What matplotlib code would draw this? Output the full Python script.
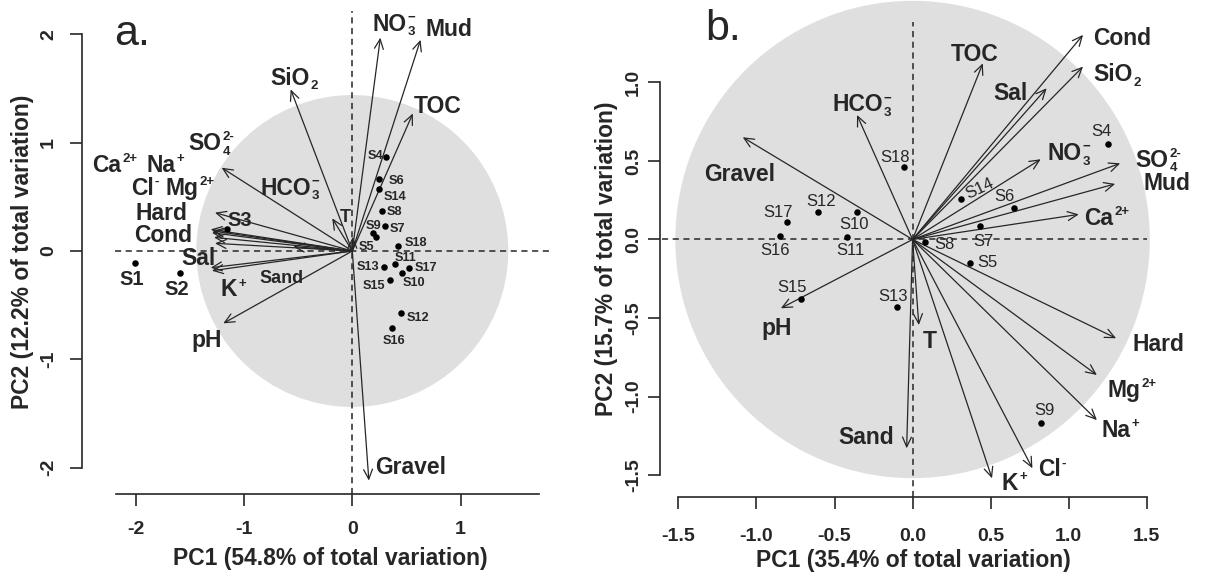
import matplotlib
matplotlib.use('Agg')
import matplotlib.pyplot as plt
from matplotlib.patches import Circle
from matplotlib.font_manager import FontProperties

plt.rcParams['font.family'] = ['Liberation Sans', 'DejaVu Sans']
plt.rcParams['axes.unicode_minus'] = False

ink = '#262626'
shade = '#dfdfdf'

# ---------------- panel a: loadings (arrow tips) ----------------
a_vars = ['NO3-', 'Mud', 'TOC', 'SiO2', 'SO42-', 'Hard', 'Ca2+', 'Na+', 'Mg2+',
          'Cond', 'Cl-', 'Sal', 'K+', 'Sand', 'HCO3-', 'T', 'pH', 'Gravel']
a_pc1 = [0.259, 0.63, 0.559, -0.569, -1.206, -1.268, -1.307, -1.296, -1.29,
         -1.277, -1.268, -1.307, -1.296, -0.545, 0.005, -0.185, -1.191, 0.153]
a_pc2 = [1.97, 1.95, 1.27, 1.493, 0.769, 0.354, 0.2, 0.169, 0.185,
         0.126, 0.071, -0.154, -0.182, 0.04, 0.13, 0.302, -0.668, -2.12]
# label anchors
a_lab_x = [0.382, 0.895, 0.789, -0.538, -1.298, -1.76, -2.19, -1.73, -1.499,
           -1.745, -1.914, -1.42, -1.099, -0.652, -0.575, -0.067, -1.344, 0.541]
a_lab_y = [2.11, 2.06, 1.35, 1.61, 1.009, 0.363, 0.81, 0.81, 0.594,
           0.163, 0.594, -0.053, -0.344, -0.237, 0.594, 0.332, -0.806, -1.98]

# panel a: site scores
a_sites = ['S1', 'S2', 'S3', 'S4', 'S5', 'S6', 'S7', 'S8', 'S9', 'S10',
           'S11', 'S12', 'S13', 'S14', 'S15', 'S16', 'S17', 'S18']
a_s1 = [-2.006, -1.59, -1.16, 0.311, 0.219, 0.244, 0.302, 0.274, 0.188, 0.456,
        0.394, 0.45, 0.295, 0.249, 0.348, 0.364, 0.524, 0.419]
a_s2 = [-0.114, -0.206, 0.203, 0.865, 0.126, 0.665, 0.231, 0.369, 0.163, -0.206,
        -0.123, -0.57, -0.145, 0.572, -0.268, -0.708, -0.16, 0.049]
a_slab_x = [-2.037, -1.62, -1.037, 0.219, 0.133, 0.41, 0.416, 0.385, 0.2, 0.57,
            0.496, 0.61, 0.148, 0.394, 0.2, 0.385, 0.681, 0.588]
a_slab_y = [-0.247, -0.344, 0.293, 0.896, 0.055, 0.665, 0.215, 0.379, 0.247, -0.283,
            -0.053, -0.607, -0.129, 0.511, -0.307, -0.813, -0.139, 0.086]

# ---------------- panel b ----------------
b_vars = ['Cond', 'SiO2', 'Sal', 'TOC', 'HCO3-', 'NO3-', 'SO42-', 'Mud', 'Ca2+',
          'Gravel', 'pH', 'T', 'Sand', 'Hard', 'Mg2+', 'Na+', 'Cl-', 'K+']
b_pc1 = [1.092, 1.092, 0.859, 0.45, -0.356, 0.821, 1.33, 1.298, 1.065, -1.088,
         -0.844, 0.04, -0.038, 1.304, 1.181, 1.181, 0.768, 0.509]
b_pc2 = [1.303, 1.101, 0.963, 1.122, 0.793, 0.511, 0.485, 0.354, 0.16, 0.651,
         -0.438, -0.545, -1.33, -0.629, -0.863, -1.15, -1.457, -1.521]
b_lab_x = [1.34, 1.309, 0.63, 0.397, -0.324, 1.001, 1.574, 1.627, 1.245, -1.109,
           -0.872, 0.111, -0.3, 1.574, 1.404, 1.33, 0.895, 0.651]
b_lab_y = [1.292, 1.059, 0.941, 1.186, 0.87, 0.559, 0.517, 0.368, 0.145, 0.422,
           -0.555, -0.64, -1.252, -0.661, -0.948, -1.203, -1.457, -1.543]

b_sites = ['S4', 'S5', 'S6', 'S7', 'S8', 'S9', 'S10', 'S11', 'S12', 'S13',
           'S14', 'S15', 'S16', 'S17', 'S18']
b_s1 = [1.251, 0.365, 0.647, 0.435, 0.079, 0.821, -0.356, -0.42, -0.604, -0.102,
        0.312, -0.716, -0.85, -0.802, -0.055]
b_s2 = [0.608, -0.152, 0.199, 0.084, -0.014, -1.171, 0.173, 0.014, 0.177, -0.428,
        0.258, -0.379, 0.022, 0.11, 0.46]
b_slab_x = [1.213, 0.482, 0.588, 0.456, 0.206, 0.842, -0.377, -0.398, -0.589, -0.123,
            0.429, -0.77, -0.881, -0.865, -0.112]
b_slab_y = [0.687, -0.148, 0.273, -0.014, -0.029, -1.092, 0.097, -0.067, 0.241, -0.364,
            0.326, -0.307, -0.071, 0.171, 0.524]

a_xticks = [-2, -1, 0, 1]
a_yticks = [-2, -1, 0, 1, 2]
b_ticks_x = [-1.5, -1.0, -0.5, 0.0, 0.5, 1.0, 1.5]
b_ticks_y = [-1.5, -1.0, -0.5, 0.0, 0.5, 1.0]

# how the ion names are typeset: (body, subscript, superscript)
chem_parts = {
    'NO3-': ('NO', '3', '\u2212'),
    'HCO3-': ('HCO', '3', '\u2212'),
    'SiO2': ('SiO', '2', ''),
    'SO42-': ('SO', '4', '2-'),
    'Ca2+': ('Ca', '', '2+'),
    'Mg2+': ('Mg', '', '2+'),
    'Na+': ('Na', '', '+'),
    'K+': ('K', '', '+'),
    'Cl-': ('Cl', '', '-'),
}

W, H = 1207, 577
fig = plt.figure(figsize=(W / 100, H / 100), dpi=100)
renderer = fig.canvas.get_renderer()


def text_w(s, size, weight):
    if not s:
        return 0.0
    fp = FontProperties(family='Liberation Sans', weight=weight, size=size)
    w, h, d = renderer.get_text_width_height_descent(s, fp, ismath=False)
    return w


def label(ax, x, y, name, size=16.5, weight='bold'):
    body, sub, sup = chem_parts.get(name, (name, '', ''))
    ssize = size * 0.58
    spx = size * 100 / 72
    wb = text_w(body, size, weight)
    ws = max(text_w(sub, ssize, weight), text_w(sup, ssize, weight))
    gap = 1.0 if ws else 0.0
    x0 = -(wb + gap + ws) / 2
    yb = -0.716 * spx / 2
    kw = dict(xycoords='data', textcoords='offset pixels', ha='left',
              va='baseline', color=ink, fontweight=weight, zorder=4,
              annotation_clip=False)
    ax.annotate(body, (x, y), xytext=(x0, yb), fontsize=size, **kw)
    if sup:
        ax.annotate(sup, (x, y), xytext=(x0 + wb + gap, yb + 0.43 * spx),
                    fontsize=ssize, **kw)
    if sub:
        ax.annotate(sub, (x, y), xytext=(x0 + wb + gap, yb - 0.2 * spx),
                    fontsize=ssize, **kw)


def px_axes(l, t, r, b):
    return fig.add_axes([l / W, 1 - b / H, (r - l) / W, (b - t) / H])


def base(ax, radius):
    ax.add_patch(Circle((0, 0), radius, facecolor=shade, edgecolor='none',
                        zorder=0, clip_on=False))
    ax.axhline(0, color=ink, lw=1.1, ls=(0, (4, 3)), zorder=1)
    ax.axvline(0, color=ink, lw=1.1, ls=(0, (4, 3)), zorder=1)
    ax.set_facecolor('none')
    for s in ['top', 'right']:
        ax.spines[s].set_visible(False)
    for s in ['left', 'bottom']:
        ax.spines[s].set_color(ink)
        ax.spines[s].set_linewidth(1.2)
    ax.tick_params(direction='out', length=8.5, width=1.2, color=ink,
                   labelcolor=ink, labelsize=14)


def arrows(ax, xs, ys):
    for x, y in zip(xs, ys):
        ax.annotate('', xy=(x, y), xytext=(0, 0), zorder=3,
                    arrowprops=dict(arrowstyle='->,head_length=0.7,head_width=0.32',
                                    mutation_scale=10, lw=0.9, color=ink,
                                    shrinkA=0, shrinkB=0))


# ---------------- draw panel a ----------------
ax = px_axes(115.1, 10.6, 550.5, 493.6)
ax.set_xlim(-2.19, 1.83)
ax.set_ylim(-2.24, 2.22)
base(ax, 1.44)
arrows(ax, a_pc1, a_pc2)
for name, x, y in zip(a_vars, a_lab_x, a_lab_y):
    size = 13 if name in ('Sand', 'T') else 16.5
    label(ax, x, y, name, size=size)
ax.scatter(a_s1, a_s2, s=22, color='black', zorder=5, linewidths=0)
for name, x, y in zip(a_sites, a_slab_x, a_slab_y):
    size = 14.5 if name in ('S1', 'S2', 'S3') else 9.2
    label(ax, x, y, name, size=size)
ax.spines['left'].set_position(('outward', 23.8))
ax.spines['left'].set_bounds(-2, 2)
ax.spines['bottom'].set_bounds(-2.18, 1.72)
ax.set_xticks(a_xticks)
ax.set_xticklabels([str(v) for v in a_xticks], fontweight='bold')
ax.set_yticks(a_yticks)
ax.set_yticklabels([str(v) for v in a_yticks], fontweight='bold',
                   rotation=90, va='center')
ax.tick_params(axis='x', pad=11.5)
ax.tick_params(axis='y', pad=9.5)
fig.text(330.5 / W, 1 - 558 / H, 'PC1 (54.8% of total variation)', ha='center',
         va='center', fontsize=16.5, fontweight='bold', color=ink)
fig.text(23 / W, 1 - 252 / H, 'PC2 (12.2% of total variation)', ha='center',
         va='center', rotation=90, fontsize=16.5, fontweight='bold', color=ink)
fig.text(114 / W, 1 - 45 / H, 'a.', ha='left', va='baseline', fontsize=31,
         color=ink)

# ---------------- draw panel b ----------------
bx = px_axes(661.9, 21.7, 1146.7, 496.7)
bx.set_xlim(-1.606, 1.478)
bx.set_ylim(-1.638, 1.387)
base(bx, 1.52)
arrows(bx, b_pc1, b_pc2)
for name, x, y in zip(b_vars, b_lab_x, b_lab_y):
    label(bx, x, y, name, size=16.5)
bx.scatter(b_s1, b_s2, s=22, color='black', zorder=5, linewidths=0)
for name, x, y in zip(b_sites, b_slab_x, b_slab_y):
    rot = 25 if name == 'S14' else 0
    bx.text(x, y, name, ha='center', va='center', fontsize=12, rotation=rot,
            color=ink, zorder=4)
bx.spines['left'].set_position(('outward', 1.4))
bx.spines['left'].set_bounds(-1.5, 1.0)
bx.spines['bottom'].set_bounds(-1.5, 1.5)
bx.set_xticks(b_ticks_x)
bx.set_xticklabels([f'{v:.1f}' for v in b_ticks_x], fontweight='bold')
bx.set_yticks(b_ticks_y)
bx.set_yticklabels([f'{v:.1f}' for v in b_ticks_y], fontweight='bold',
                   rotation=90, va='center')
bx.tick_params(axis='x', pad=14)
bx.tick_params(axis='y', pad=4.5)
fig.text(913 / W, 1 - 560 / H, 'PC1 (35.4% of total variation)', ha='center',
         va='center', fontsize=16.5, fontweight='bold', color=ink)
fig.text(607 / W, 1 - 259 / H, 'PC2 (15.7% of total variation)', ha='center',
         va='center', rotation=90, fontsize=16.5, fontweight='bold', color=ink)
fig.text(705 / W, 1 - 40 / H, 'b.', ha='left', va='baseline', fontsize=31,
         color=ink)

fig.savefig('out.png', dpi=100)
